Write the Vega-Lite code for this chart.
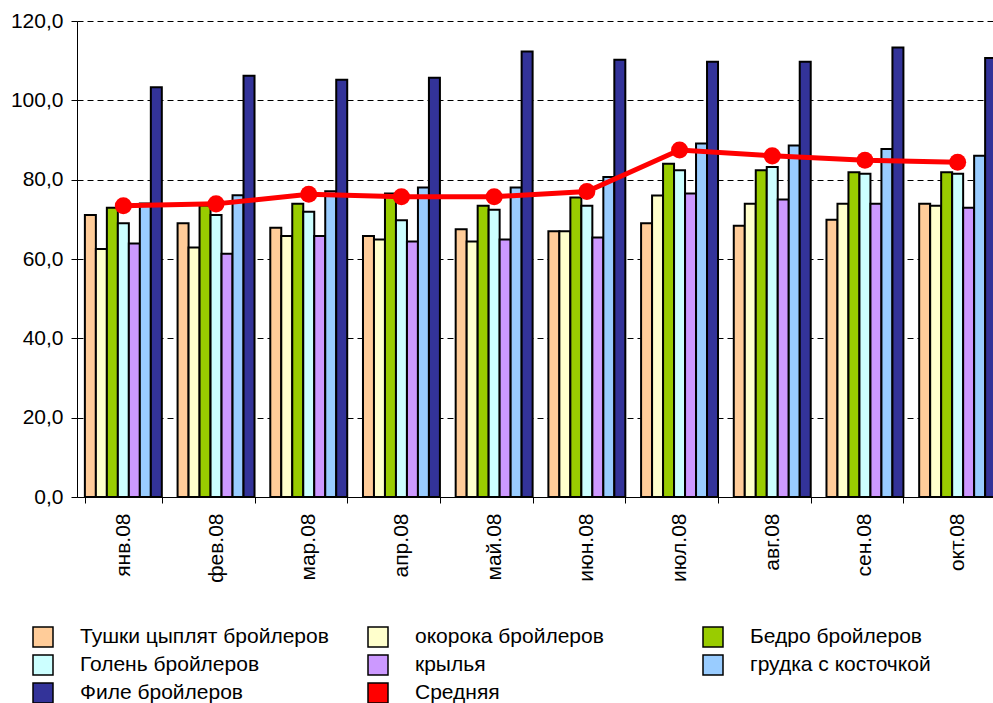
{
  "$schema": "https://vega.github.io/schema/vega-lite/v6.json",
  "autosize": {"type": "none"},
  "padding": {"left": 77, "top": 21, "right": 0, "bottom": 206},
  "width": 916,
  "height": 476,
  "background": "white",
  "config": {
    "view": {"stroke": null},
    "font": "Liberation Sans"
  },
  "datasets": {
    "prices": [
      {"month": "янв.08", "series": "Тушки цыплят бройлеров", "value": 71.1},
      {"month": "фев.08", "series": "Тушки цыплят бройлеров", "value": 69.0},
      {"month": "мар.08", "series": "Тушки цыплят бройлеров", "value": 67.9},
      {"month": "апр.08", "series": "Тушки цыплят бройлеров", "value": 65.8},
      {"month": "май.08", "series": "Тушки цыплят бройлеров", "value": 67.5},
      {"month": "июн.08", "series": "Тушки цыплят бройлеров", "value": 67.0},
      {"month": "июл.08", "series": "Тушки цыплят бройлеров", "value": 69.0},
      {"month": "авг.08", "series": "Тушки цыплят бройлеров", "value": 68.4},
      {"month": "сен.08", "series": "Тушки цыплят бройлеров", "value": 69.9},
      {"month": "окт.08", "series": "Тушки цыплят бройлеров", "value": 73.9},
      {"month": "янв.08", "series": "окорока бройлеров", "value": 62.5},
      {"month": "фев.08", "series": "окорока бройлеров", "value": 62.9},
      {"month": "мар.08", "series": "окорока бройлеров", "value": 65.8},
      {"month": "апр.08", "series": "окорока бройлеров", "value": 64.9},
      {"month": "май.08", "series": "окорока бройлеров", "value": 64.4},
      {"month": "июн.08", "series": "окорока бройлеров", "value": 67.0},
      {"month": "июл.08", "series": "окорока бройлеров", "value": 76.0},
      {"month": "авг.08", "series": "окорока бройлеров", "value": 73.9},
      {"month": "сен.08", "series": "окорока бройлеров", "value": 73.9},
      {"month": "окт.08", "series": "окорока бройлеров", "value": 73.4},
      {"month": "янв.08", "series": "Бедро бройлеров", "value": 72.9},
      {"month": "фев.08", "series": "Бедро бройлеров", "value": 73.5},
      {"month": "мар.08", "series": "Бедро бройлеров", "value": 73.9},
      {"month": "апр.08", "series": "Бедро бройлеров", "value": 76.5},
      {"month": "май.08", "series": "Бедро бройлеров", "value": 73.4},
      {"month": "июн.08", "series": "Бедро бройлеров", "value": 75.5},
      {"month": "июл.08", "series": "Бедро бройлеров", "value": 84.0},
      {"month": "авг.08", "series": "Бедро бройлеров", "value": 82.4},
      {"month": "сен.08", "series": "Бедро бройлеров", "value": 81.9},
      {"month": "окт.08", "series": "Бедро бройлеров", "value": 81.9},
      {"month": "янв.08", "series": "Голень бройлеров", "value": 69.0},
      {"month": "фев.08", "series": "Голень бройлеров", "value": 71.1},
      {"month": "мар.08", "series": "Голень бройлеров", "value": 71.9},
      {"month": "апр.08", "series": "Голень бройлеров", "value": 69.8},
      {"month": "май.08", "series": "Голень бройлеров", "value": 72.4},
      {"month": "июн.08", "series": "Голень бройлеров", "value": 73.4},
      {"month": "июл.08", "series": "Голень бройлеров", "value": 82.4},
      {"month": "авг.08", "series": "Голень бройлеров", "value": 83.2},
      {"month": "сен.08", "series": "Голень бройлеров", "value": 81.5},
      {"month": "окт.08", "series": "Голень бройлеров", "value": 81.5},
      {"month": "янв.08", "series": "крылья", "value": 63.9},
      {"month": "фев.08", "series": "крылья", "value": 61.3},
      {"month": "мар.08", "series": "крылья", "value": 65.8},
      {"month": "апр.08", "series": "крылья", "value": 64.4},
      {"month": "май.08", "series": "крылья", "value": 64.9},
      {"month": "июн.08", "series": "крылья", "value": 65.4},
      {"month": "июл.08", "series": "крылья", "value": 76.5},
      {"month": "авг.08", "series": "крылья", "value": 75.0},
      {"month": "сен.08", "series": "крылья", "value": 73.9},
      {"month": "окт.08", "series": "крылья", "value": 72.9},
      {"month": "янв.08", "series": "грудка с косточкой", "value": 74.0},
      {"month": "фев.08", "series": "грудка с косточкой", "value": 76.1},
      {"month": "мар.08", "series": "грудка с косточкой", "value": 77.1},
      {"month": "апр.08", "series": "грудка с косточкой", "value": 78.0},
      {"month": "май.08", "series": "грудка с косточкой", "value": 78.0},
      {"month": "июн.08", "series": "грудка с косточкой", "value": 80.7},
      {"month": "июл.08", "series": "грудка с косточкой", "value": 89.1},
      {"month": "авг.08", "series": "грудка с косточкой", "value": 88.6},
      {"month": "сен.08", "series": "грудка с косточкой", "value": 87.7},
      {"month": "окт.08", "series": "грудка с косточкой", "value": 86.0},
      {"month": "янв.08", "series": "Филе бройлеров", "value": 103.3},
      {"month": "фев.08", "series": "Филе бройлеров", "value": 106.2},
      {"month": "мар.08", "series": "Филе бройлеров", "value": 105.2},
      {"month": "апр.08", "series": "Филе бройлеров", "value": 105.7},
      {"month": "май.08", "series": "Филе бройлеров", "value": 112.3},
      {"month": "июн.08", "series": "Филе бройлеров", "value": 110.2},
      {"month": "июл.08", "series": "Филе бройлеров", "value": 109.7},
      {"month": "авг.08", "series": "Филе бройлеров", "value": 109.7},
      {"month": "сен.08", "series": "Филе бройлеров", "value": 113.3},
      {"month": "окт.08", "series": "Филе бройлеров", "value": 110.7},
      {"month": "янв.08", "series": "Средняя", "value": 73.4},
      {"month": "фев.08", "series": "Средняя", "value": 73.9},
      {"month": "мар.08", "series": "Средняя", "value": 76.3},
      {"month": "апр.08", "series": "Средняя", "value": 75.7},
      {"month": "май.08", "series": "Средняя", "value": 75.7},
      {"month": "июн.08", "series": "Средняя", "value": 77.0},
      {"month": "июл.08", "series": "Средняя", "value": 87.5},
      {"month": "авг.08", "series": "Средняя", "value": 86.0},
      {"month": "сен.08", "series": "Средняя", "value": 84.9},
      {"month": "окт.08", "series": "Средняя", "value": 84.4}
    ]
  },
  "data": {"name": "prices"},
  "encoding": {
    "x": {
      "field": "month",
      "type": "nominal",
      "sort": ["янв.08", "фев.08", "мар.08", "апр.08", "май.08", "июн.08", "июл.08", "авг.08", "сен.08", "окт.08"],
      "scale": {"range": [0, 927], "paddingInner": 0.17, "paddingOuter": 0.085},
      "axis": {
        "title": null,
        "labelAngle": -90,
        "labelFontSize": 21,
        "labelColor": "black",
        "labelPadding": 10,
        "tickBand": "extent",
        "tickSize": 6,
        "tickColor": "black",
        "domainColor": "black",
        "grid": false
      }
    },
    "y": {
      "field": "value",
      "type": "quantitative",
      "scale": {"domain": [0, 120], "nice": false},
      "axis": {
        "title": null,
        "values": [0, 20, 40, 60, 80, 100, 120],
        "labelExpr": "replace(format(datum.value, '.1f'), '.', ',')",
        "labelFontSize": 21,
        "labelColor": "black",
        "labelPadding": 8,
        "tickSize": 6,
        "tickColor": "black",
        "domainColor": "black",
        "grid": true,
        "gridColor": "black",
        "gridDash": [6, 4],
        "gridWidth": 1
      }
    }
  },
  "layer": [
    {
      "transform": [{"filter": "datum.series !== 'Средняя'"}],
      "mark": {"type": "bar", "stroke": "black", "strokeWidth": 2},
      "encoding": {
        "xOffset": {
          "field": "series",
          "sort": ["Тушки цыплят бройлеров", "окорока бройлеров", "Бедро бройлеров", "Голень бройлеров", "крылья", "грудка с косточкой", "Филе бройлеров"]
        },
        "color": {
          "field": "series",
          "type": "nominal",
          "scale": {
            "domain": ["Тушки цыплят бройлеров", "окорока бройлеров", "Бедро бройлеров", "Голень бройлеров", "крылья", "грудка с косточкой", "Филе бройлеров", "Средняя"],
            "range": ["#FFCC99", "#FFFFCC", "#99CC00", "#CCFFFF", "#CC99FF", "#99CCFF", "#333399", "#FF0000"]
          },
          "legend": {
            "title": null,
            "orient": "none",
            "legendX": -45,
            "legendY": 605,
            "direction": "horizontal",
            "columns": 3,
            "gridAlign": "all",
            "columnPadding": 36,
            "rowPadding": 2,
            "labelFontSize": 21,
            "labelColor": "black",
            "labelOffset": 26,
            "labelLimit": 400,
            "symbolSize": 400,
            "encode": {
              "symbols": {
                "shape": {"value": {"expr": "datum.value === 'Средняя' ? 'M-2.7,-0.25H2.7V0.25H-2.7Z M-0.5,0A0.5,0.5 0 1,0 0.5,0A0.5,0.5 0 1,0 -0.5,0Z' : 'M-2.7,-0.6H2.7V0.6H-2.7Z'"}},
                "fill": {"value": {"expr": "scale('color', datum.value)"}},
                "fillOpacity": {"value": 1},
                "stroke": {"value": {"expr": "datum.value === 'Средняя' ? 'transparent' : 'black'"}},
                "strokeWidth": {"value": 1.5},
                "size": {"value": 400}
              }
            }
          }
        }
      }
    },
    {
      "transform": [{"filter": "datum.series === 'Средняя'"}],
      "mark": {"type": "line", "color": "#FF0000", "strokeWidth": 5, "point": {"filled": true, "size": 290, "opacity": 1, "color": "#FF0000"}},
      "encoding": {}
    }
  ]
}
